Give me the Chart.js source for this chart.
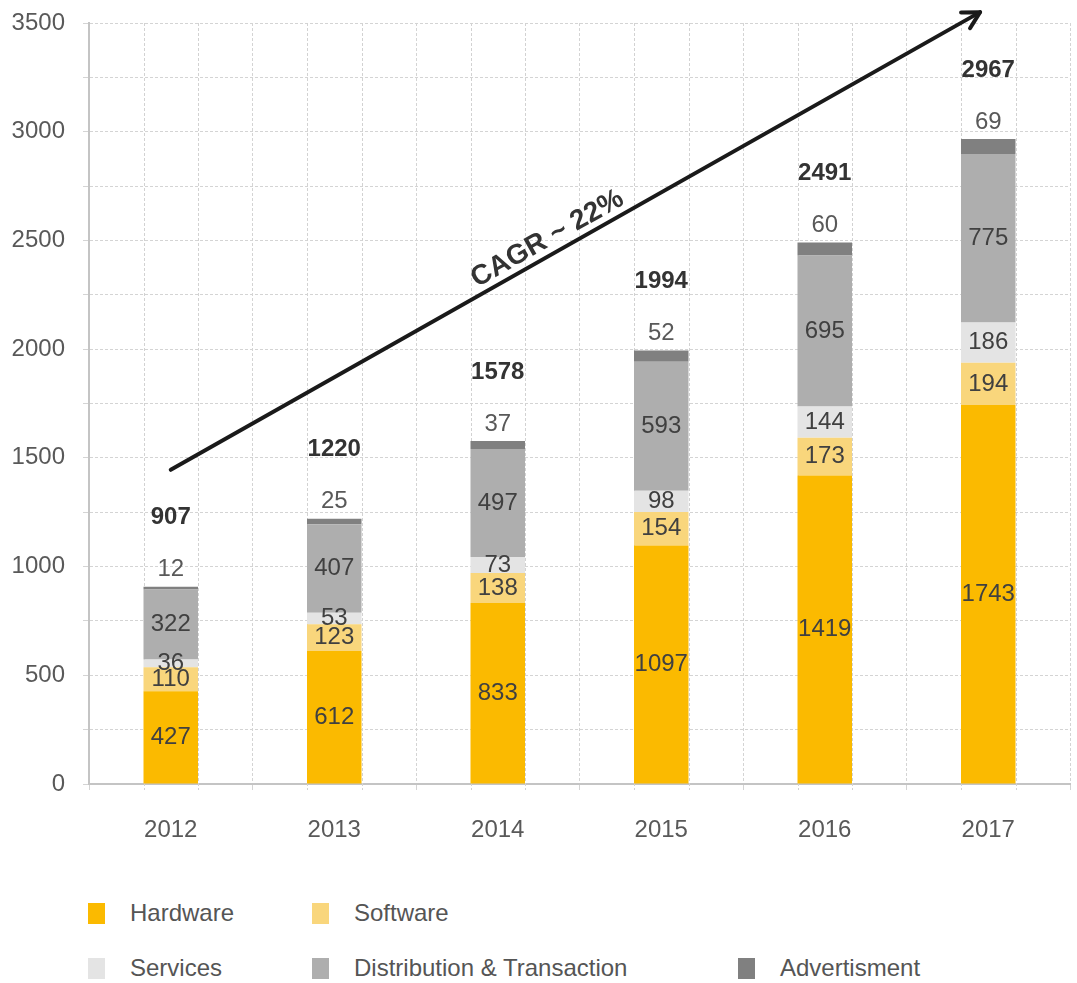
<!DOCTYPE html>
<html>
<head>
<meta charset="utf-8">
<title>Market size 2012-2017</title>
<script src="https://cdn.jsdelivr.net/npm/chart.js@4.4.1/dist/chart.umd.min.js"></script>
<style>
  html, body { margin: 0; padding: 0; background: #fff; }
  #wrap { position: relative; width: 1077px; height: 983px; }
  #box { position: absolute; left: 0; top: 0; width: 1077px; height: 870px; }
  #legend {
    position: absolute; left: 88px; top: 898px;
    display: grid; grid-template-columns: 224px 426px 260px; row-gap: 25px;
    font-family: "Liberation Sans", Arial, sans-serif; font-size: 24px; color: #555;
  }
  .item { display: flex; align-items: center; height: 30px; }
  .sw { width: 17px; height: 21px; margin-right: 25px; flex: none; }
</style>
</head>
<body>
<div id="wrap">
  <div id="box"><canvas id="grafico"></canvas></div>
  <div id="legend"></div>
</div>
<script>
// Anos e valores de cada segmento
var years = ['2012', '2013', '2014', '2015', '2016', '2017'];
var hardware = [427, 612, 833, 1097, 1419, 1743];
var software = [110, 123, 138, 154, 173, 194];
var services = [36, 53, 73, 98, 144, 186];
var distribution = [322, 407, 497, 593, 695, 775];
var advertisment = [12, 25, 37, 52, 60, 69];

var seriesNames = ['Hardware', 'Software', 'Services', 'Distribution & Transaction', 'Advertisment'];
var seriesColors = ['#FBBA00', '#F9D67C', '#E4E4E4', '#AEAEAE', '#808080'];
var cagrText = 'CAGR ~ 22%';

var FONT = '"Liberation Sans", Arial, sans-serif';

var seriesData = [hardware, software, services, distribution, advertisment];
var datasets = seriesData.map(function (values, i) {
  return {
    label: seriesNames[i],
    data: values,
    backgroundColor: seriesColors[i],
    borderWidth: 0,
    barPercentage: 1 / 3,
    categoryPercentage: 1
  };
});

// Linhas verticais pontilhadas nas bordas das barras
var barEdges = {
  id: 'barEdges',
  beforeDatasetsDraw: function (chart) {
    var ctx = chart.ctx, area = chart.chartArea;
    var meta = chart.getDatasetMeta(0);
    ctx.save();
    ctx.strokeStyle = '#d2d2d2';
    ctx.lineWidth = 1;
    ctx.setLineDash([3, 2]);
    meta.data.forEach(function (bar) {
      var w = bar.width / 2;
      [bar.x - w, bar.x + w].forEach(function (x) {
        x = Math.round(x) + 0.5;
        ctx.beginPath();
        ctx.moveTo(x, area.top);
        ctx.lineTo(x, area.bottom + 6);
        ctx.stroke();
      });
    });
    ctx.restore();
  }
};

// Rótulos dos segmentos e totais
var valueLabels = {
  id: 'valueLabels',
  afterDatasetsDraw: function (chart) {
    var ctx = chart.ctx;
    ctx.save();
    ctx.textAlign = 'center';
    ctx.textBaseline = 'middle';
    ctx.font = '24px ' + FONT;
    chart.data.datasets.forEach(function (ds, d) {
      var meta = chart.getDatasetMeta(d);
      meta.data.forEach(function (bar, i) {
        var v = ds.data[i];
        if (d === 4) {
          ctx.fillStyle = '#595959';
          ctx.fillText(v, bar.x, bar.y - 17);
        } else {
          ctx.fillStyle = '#404040';
          ctx.fillText(v, bar.x, (bar.y + bar.base) / 2);
        }
      });
    });
    // totais em negrito acima de cada coluna
    var top = chart.getDatasetMeta(4);
    ctx.font = 'bold 24px ' + FONT;
    ctx.fillStyle = '#333';
    top.data.forEach(function (bar, i) {
      var total = 0;
      seriesData.forEach(function (s) { total += s[i]; });
      ctx.fillText(total, bar.x, bar.y - 69);
    });
    ctx.restore();
  }
};

// Seta de crescimento com o texto CAGR
var cagrArrow = {
  id: 'cagrArrow',
  afterDraw: function (chart) {
    var ctx = chart.ctx;
    var xs = chart.scales.x, ys = chart.scales.y;
    var x0 = xs.getPixelForValue(0), y0 = ys.getPixelForValue(1445);
    var x1 = xs.getPixelForValue(4.95), y1 = ys.getPixelForValue(3550);
    var ang = Math.atan2(y1 - y0, x1 - x0);
    ctx.save();
    ctx.strokeStyle = '#1a1a1a';
    ctx.lineWidth = 4;
    ctx.lineCap = 'round';
    ctx.lineJoin = 'round';
    ctx.beginPath();
    ctx.moveTo(x0, y0);
    ctx.lineTo(x1, y1);
    ctx.stroke();
    var head = 19;
    ctx.beginPath();
    ctx.moveTo(x1 + head * Math.cos(ang + Math.PI - 0.5), y1 + head * Math.sin(ang + Math.PI - 0.5));
    ctx.lineTo(x1, y1);
    ctx.lineTo(x1 + head * Math.cos(ang + Math.PI + 0.5), y1 + head * Math.sin(ang + Math.PI + 0.5));
    ctx.stroke();

    var t = 0.475;
    var cx = x0 + (x1 - x0) * t, cy = y0 + (y1 - y0) * t;
    ctx.translate(cx, cy);
    ctx.rotate(ang);
    ctx.font = 'bold 28px ' + FONT;
    ctx.fillStyle = '#333';
    ctx.textAlign = 'center';
    ctx.textBaseline = 'alphabetic';
    ctx.fillText(cagrText, 0, -8);
    ctx.restore();
  }
};

var gridColor = '#d4d4d4';

var options = {
  responsive: true,
  maintainAspectRatio: false,
  animation: false,
  layout: { padding: { top: 23, right: 7, left: 0, bottom: 0 } },
  plugins: {
    legend: { display: false },
    tooltip: { enabled: false }
  },
  scales: {
    x: {
      stacked: true,
      grid: {
        offset: true,
        color: gridColor,
        lineWidth: 1,
        tickLength: 6
      },
      // border.dash tracejado vale para as linhas da grade
      border: { display: true, color: '#c4c4c4', width: 2, dash: [3, 2] },
      ticks: {
        color: '#595959',
        font: { family: FONT, size: 24 },
        padding: 26
      },
      afterFit: function (scale) { scale.height = 86; }
    },
    y: {
      stacked: true,
      min: 0,
      max: 3500,
      grid: {
        color: gridColor,
        lineWidth: 1,
        tickLength: 6
      },
      border: { display: true, color: '#c4c4c4', width: 2, dash: [3, 2] },
      ticks: {
        stepSize: 250,
        color: '#595959',
        font: { family: FONT, size: 24 },
        padding: 18,
        callback: function (v) { return v % 500 === 0 ? v : ''; }
      },
      afterFit: function (scale) {
        scale.width = 89;
        scale.paddingTop = 0;
        scale.paddingBottom = 0;
      }
    }
  }
};

var ctx = document.getElementById('grafico').getContext('2d');
new Chart(ctx, {
  type: 'bar',
  data: { labels: years, datasets: datasets },
  options: options,
  plugins: [barEdges, valueLabels, cagrArrow]
});

// Legenda em duas linhas
var legendOrder = [0, 1, -1, 2, 3, 4];
var legend = document.getElementById('legend');
legendOrder.forEach(function (i) {
  var item = document.createElement('div');
  item.className = 'item';
  if (i >= 0) {
    var sw = document.createElement('span');
    sw.className = 'sw';
    sw.style.background = seriesColors[i];
    var txt = document.createElement('span');
    txt.textContent = seriesNames[i];
    item.appendChild(sw);
    item.appendChild(txt);
  }
  legend.appendChild(item);
});
</script>
</body>
</html>
